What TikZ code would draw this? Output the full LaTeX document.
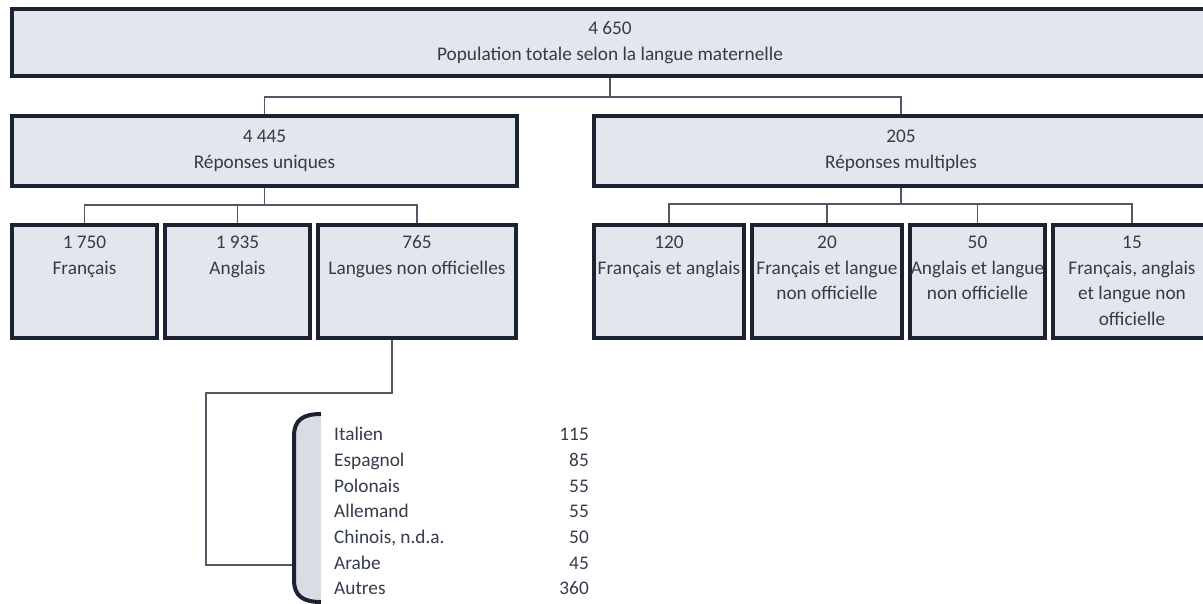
\documentclass[tikz,border=0pt]{standalone}
\usepackage{fontspec}
\setmainfont{Carlito}
\definecolor{boxfill}{HTML}{E3E6EC}
\definecolor{boxline}{HTML}{1B2333}
\definecolor{linkline}{HTML}{525866}
\definecolor{txtcol}{HTML}{343B4A}
\definecolor{brkfill}{HTML}{D9DCE2}
\begin{document}
\begin{tikzpicture}[x=1pt,y=-1pt,
    font=\fontsize{19.3}{25.7}\selectfont,text=txtcol,
    box/.style={draw=boxline,fill=boxfill,line width=4pt,inner sep=0pt,align=center},
    boxtxt/.style={anchor=north,inner sep=0pt,align=center},
    link/.style={draw=linkline,line width=1.5pt},
    listtxt/.style={inner sep=0pt}]
    \useasboundingbox (0,0) rectangle (1203,604);
    \node[box,minimum width=1196,minimum height=67] (tot) at (610,42.5) {4 650\\Population totale selon la langue maternelle};
    \node[box,minimum width=505,minimum height=70] (uniq) at (264.5,151) {4 445\\Réponses uniques};
    \node[box,minimum width=614,minimum height=70] (mult) at (901,151) {205\\Réponses multiples};
    \node[box,minimum width=145,minimum height=113] (fr) at (84.5,281.5) {};
    \node[box,minimum width=145,minimum height=113] (an) at (237.5,281.5) {};
    \node[box,minimum width=198,minimum height=113] (lno) at (417,281.5) {};
    \node[box,minimum width=150,minimum height=113] (fa) at (669,281.5) {};
    \node[box,minimum width=150,minimum height=113] (fl) at (827,281.5) {};
    \node[box,minimum width=135,minimum height=113] (al) at (977.5,281.5) {};
    \node[box,minimum width=158,minimum height=113] (fal) at (1132,281.5) {};
    \node[boxtxt] (frt) at ([yshift=-12.7pt]fr.north) {1 750\\Français};
    \node[boxtxt] (ant) at ([yshift=-12.7pt]an.north) {1 935\\Anglais};
    \node[boxtxt] (lnot) at ([yshift=-12.7pt]lno.north) {765\\Langues non officielles};
    \node[boxtxt] (fat) at ([yshift=-12.7pt]fa.north) {120\\Français et anglais};
    \node[boxtxt] (flt) at ([yshift=-12.7pt]fl.north) {20\\Français et langue\\non officielle};
    \node[boxtxt] (alt) at ([yshift=-12.7pt]al.north) {50\\Anglais et langue\\non officielle};
    \node[boxtxt] (falt) at ([yshift=-12.7pt]fal.north) {15\\Français, anglais\\et langue non\\officielle};
    \draw[link] (tot.south) -- ++(0,19) -| (uniq.north);
    \draw[link] (tot.south) -- ++(0,19) -| (mult.north);
    \foreach \b in {fr,an,lno}
      \draw[link] (uniq.south) -- ++(0,17) -| (\b.north);
    \foreach \b in {fa,fl,al,fal}
      \draw[link] (mult.south) -- ++(0,16) -| (\b.north);
    \coordinate (bend) at (206,393);
    \coordinate (brk) at (292,565);
    \draw[link] ([xshift=-25pt]lno.south) |- (bend) |- (brk);
    \fill[brkfill] (321,414) .. controls (303,414) and (294,420) .. (294,436) -- (294,580) .. controls (294,596) and (303,602) .. (321,602) -- cycle;
    \draw[boxline,line width=4pt] (321,414) .. controls (303,414) and (294,420) .. (294,436) -- (294,580) .. controls (294,596) and (303,602) .. (321,602);
    \foreach \lang/\val [count=\i from 0] in {Italien/115,Espagnol/85,Polonais/55,Allemand/55,{Chinois, n.d.a.}/50,Arabe/45,Autres/360} {
      \node[listtxt,anchor=base west] (lang\i) at (334,440.7+25.7*\i) {\lang};
      \node[listtxt,anchor=base east] (val\i) at (589,440.7+25.7*\i) {\val};
    }
\end{tikzpicture}
\end{document}
